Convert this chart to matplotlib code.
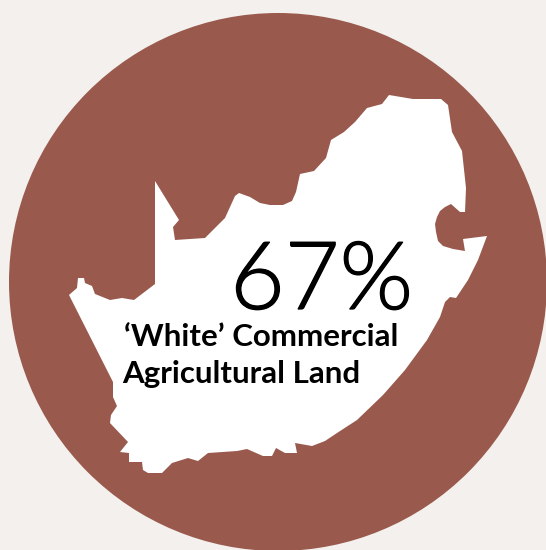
import matplotlib
matplotlib.use("Agg")
import matplotlib.pyplot as plt
import matplotlib.patheffects as pe
from matplotlib.patches import Circle, Polygon

# map outline, pixel coordinates
outline_x = [155, 179, 173, 175, 205, 225, 235, 239, 250, 260, 270, 283, 292, 296, 300, 314, 326, 331,
             344, 355, 367, 382, 389, 413, 441, 448, 452, 462, 466, 465, 460, 451, 445, 440, 437, 435,
             436, 438, 443, 453, 465, 463, 487, 478, 468, 456, 450, 445, 440, 427, 405, 383, 357, 337,
             325, 312, 295, 297, 285, 276, 272, 263, 247, 237, 208, 198, 188, 172, 162, 148, 143, 142,
             129, 129, 120, 128, 110, 111, 117, 113, 113, 69, 77, 78, 84, 85, 92, 95, 110, 122, 134, 155]
outline_y = [181, 220, 227, 240, 238, 218, 196, 193, 197, 203, 205, 205, 201, 192, 174, 171, 158, 140,
             132, 122, 108, 104, 95, 99, 99, 105, 132, 151, 188, 212, 212, 204, 207, 211, 217, 224,
             232, 241, 246, 249, 251, 239, 236, 260, 280, 298, 297, 302, 317, 340, 370, 395, 420, 433,
             441, 446, 443, 453, 453, 448, 456, 456, 449, 451, 453, 461, 458, 463, 473, 473, 470, 462,
             462, 453, 452, 442, 423, 415, 406, 397, 382, 295, 288, 278, 278, 283, 286, 294, 300, 298, 300, 284]

big_label = "67%"
label_lines = ["\u2018White\u2019 Commercial", "Agricultural Land"]

fig = plt.figure(figsize=(5.46, 5.5), dpi=100, facecolor="#f4f0ed")
ax = fig.add_axes([0, 0, 1, 1])
ax.set_xlim(0, 546)
ax.set_ylim(550, 0)
ax.axis("off")

ax.add_patch(Circle((278, 282), 269, facecolor="#995a4d", edgecolor="none"))
ax.add_patch(Polygon(list(zip(outline_x, outline_y)), closed=True, facecolor="white", edgecolor="none"))

ax.text(230, 309, big_label, family="Lato", weight=300, fontsize=68, color="black", ha="left", va="baseline",
        path_effects=[pe.withStroke(linewidth=0.9, foreground="black")])
ax.text(124, 346, label_lines[0], family="Lato", weight="bold", fontsize=22.5, color="black",
        ha="left", va="baseline")
ax.text(122, 383, label_lines[1], family="Lato", weight="bold", fontsize=22.5, color="black",
        ha="left", va="baseline")

fig.savefig("out.png", dpi=100, facecolor=fig.get_facecolor())
